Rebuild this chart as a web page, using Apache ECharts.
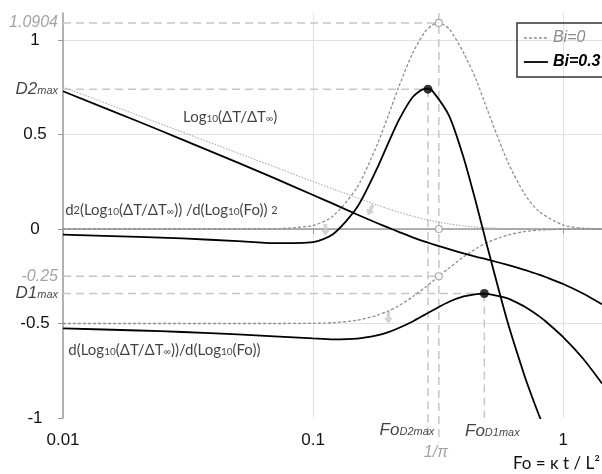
<!DOCTYPE html>
<html>
<head>
<meta charset="utf-8">
<script src="https://cdn.jsdelivr.net/npm/echarts@6/dist/echarts.min.js"></script>
<style>
html, body { margin: 0; padding: 0; background: #fff; }
#main { width: 602px; height: 474px; }
</style>
</head>
<body>
<div id="main"></div>
<script>
// Fo values
var foBi0 = [0.01, 0.02, 0.03, 0.05, 0.07, 0.1, 0.12, 0.15, 0.18, 0.2, 0.22, 0.25, 0.28, 0.3, 0.318, 0.35, 0.4, 0.45, 0.5, 0.6, 0.7, 0.8, 1.0, 1.2, 1.43];
var logBi0 = [0.751, 0.601, 0.513, 0.402, 0.329, 0.251, 0.212, 0.165, 0.127, 0.107, 0.089, 0.068, 0.052, 0.043, 0.036, 0.027, 0.017, 0.010, 0.006, 0.002, 0.001, 0.000, 0.000, 0.000, 0.000];
var d1Bi0 = [-0.5, -0.5, -0.5, -0.5, -0.5, -0.499, -0.496, -0.483, -0.457, -0.434, -0.406, -0.359, -0.310, -0.278, -0.25, -0.206, -0.147, -0.102, -0.070, -0.032, -0.014, -0.006, -0.001, 0.000, 0.000];
var d2Bi0 = [0, 0, 0, 0, 0.001, 0.019, 0.068, 0.220, 0.443, 0.602, 0.751, 0.930, 1.043, 1.079, 1.090, 1.059, 0.932, 0.786, 0.623, 0.356, 0.187, 0.093, 0.021, 0.004, 0.001];

var foBi03 = [0.01, 0.02, 0.03, 0.05, 0.07, 0.1, 0.12, 0.15, 0.18, 0.2, 0.22, 0.25, 0.28, 0.288, 0.3, 0.35, 0.4, 0.45, 0.484, 0.5, 0.6, 0.7, 0.75, 0.8, 0.85, 1.0, 1.2, 1.43];
var logBi03 = [0.729, 0.569, 0.473, 0.351, 0.269, 0.180, 0.134, 0.077, 0.032, 0.007, -0.015, -0.044, -0.067, -0.072, -0.080, -0.107, -0.129, -0.147, -0.157, -0.162, -0.190, -0.216, -0.229, -0.241, -0.254, -0.291, -0.341, -0.398];
var d1Bi03 = [-0.526, -0.537, -0.545, -0.558, -0.568, -0.579, -0.584, -0.580, -0.563, -0.546, -0.524, -0.489, -0.453, -0.444, -0.431, -0.385, -0.357, -0.344, -0.342, -0.343, -0.367, -0.410, -0.435, -0.461, -0.488, -0.572, -0.685, -0.817];
var d2Bi03 = [-0.030, -0.042, -0.050, -0.064, -0.075, -0.069, -0.028, 0.115, 0.319, 0.456, 0.575, 0.697, 0.741, 0.741, 0.731, 0.599, 0.377, 0.131, -0.032, -0.105, -0.494, -0.775, -0.886, -0.984, -1.072, -1.30, -1.58, -1.88];

// special points
var invPi = 0.3183;
var bi0Peak = 1.0904;
var bi0Half = -0.25;
var d2Max = [0.288, 0.740];
var d1Max = [0.484, -0.341];
var openPts = [[invPi, bi0Peak], [invPi, 0], [invPi, bi0Half]];
var filledPts = [d2Max, d1Max];
var arrowPts = [[0.112, -0.005], [0.1694, 0.10], [0.2, -0.47]];
var arrowTurn = [0, -25, 0];

var xMin = 0.01, xMax = 1.43, yMin = -1, yMax = 1.143;

function pairs(xs, ys) {
    return xs.map(function (x, i) { return [x, ys[i]]; });
}

var chartDom = document.getElementById('main');
var myChart = echarts.init(chartDom);

var subRich = {
    big: { fontSize: 17, fontStyle: 'italic', fontFamily: 'Liberation Sans', color: '#111', lineHeight: 18, padding: [7, 0, 7, 0] },
    sub: { fontSize: 11, fontStyle: 'italic', fontFamily: 'Liberation Sans', color: '#111', lineHeight: 12, verticalAlign: 'bottom', padding: [0, 0, 2, 0] },
    gray: { fontSize: 16, fontStyle: 'italic', fontFamily: 'Liberation Sans', color: '#8c8c8c', lineHeight: 18 }
};
var txtRich = {
    t: { fontSize: 15, fontFamily: 'Lato', color: '#111', lineHeight: 16, padding: [5, 0, 5, 0] },
    sb: { fontSize: 10, fontFamily: 'Lato', color: '#111', lineHeight: 11, verticalAlign: 'bottom', padding: [0, 0, 1, 0] },
    sp: { fontSize: 11, fontFamily: 'Lato', color: '#111', lineHeight: 11, verticalAlign: 'top', padding: [3, 0, 0, 0] }
};

// dashed guide lines
var guides = [
    [[xMin, bi0Peak], [invPi, bi0Peak]],
    [[invPi, yMax], [invPi, -1.13]],
    [[xMin, d2Max[1]], d2Max],
    [d2Max, [d2Max[0], -1.12]],
    [[xMin, bi0Half], [invPi, bi0Half]],
    [[xMin, d1Max[1]], d1Max],
    [d1Max, [d1Max[0], yMin]]
];

var series = [];
guides.forEach(function (g) {
    series.push({
        type: 'line', data: g, symbol: 'none', silent: true, clip: false, z: 1,
        lineStyle: { color: '#c6c6c6', width: 1.5, type: [8, 5] }
    });
});

var bi0Style = { color: '#8f8f8f', width: 1.3, type: [3, 2] };
series.push(
    { name: 'Bi=0', type: 'line', data: pairs(foBi0, d2Bi0), symbol: 'none', smooth: 0.25, z: 3, lineStyle: bi0Style },
    { name: 'Bi=0', type: 'line', data: pairs(foBi0, d1Bi0), symbol: 'none', smooth: 0.25, z: 3, lineStyle: bi0Style },
    { name: 'Bi=0', type: 'line', data: pairs(foBi0, logBi0), symbol: 'none', smooth: 0.25, z: 3,
      lineStyle: { color: '#a0a0a0', width: 1, type: [1.5, 1.5] } },
    { name: 'Bi=0.3', type: 'line', data: pairs(foBi03, d2Bi03), symbol: 'none', smooth: 0.25, z: 4, lineStyle: { color: '#000', width: 1.8 } },
    { name: 'Bi=0.3', type: 'line', data: pairs(foBi03, d1Bi03), symbol: 'none', smooth: 0.25, z: 4, lineStyle: { color: '#000', width: 1.8 } },
    { name: 'Bi=0.3', type: 'line', data: pairs(foBi03, logBi03), symbol: 'none', smooth: 0.25, z: 4, lineStyle: { color: '#000', width: 1.8 } }
);

// markers
series.push({
    type: 'scatter', data: openPts, symbol: 'circle', symbolSize: 7, z: 6, silent: true,
    itemStyle: { color: '#fff', borderColor: '#999', borderWidth: 1.2 }
});
series.push({
    type: 'scatter', data: filledPts, symbol: 'circle', symbolSize: 9, z: 6, silent: true,
    itemStyle: { color: '#000' }
});
series.push({
    type: 'scatter', silent: true, z: 5,
    data: arrowPts.map(function (p, i) { return { value: p, symbolRotate: arrowTurn[i] }; }),
    symbol: 'path://M3,0 L7,0 L7,6 L10,6 L5,12 L0,6 L3,6 Z', symbolSize: [9, 12],
    itemStyle: { color: '#c8c8c8' }
});

// extra y-axis labels
series.push({
    type: 'scatter', symbolSize: 0, silent: true, clip: false, z: 7,
    data: [
        { value: [xMin, bi0Peak], label: { formatter: '{gray|1.0904}' } },
        { value: [xMin, d2Max[1]], label: { formatter: '{big|D2}{sub|max}' } },
        { value: [xMin, bi0Half], label: { formatter: '{gray|-0.25}' } },
        { value: [xMin, d1Max[1]], label: { formatter: '{big|D1}{sub|max}' } }
    ],
    label: { show: true, position: 'left', distance: 5, rich: subRich }
});
// extra x-axis labels
series.push({
    type: 'scatter', symbolSize: 0, silent: true, clip: false, z: 7,
    data: [
        { value: [d2Max[0], yMin], label: { formatter: '{big|Fo}{sub|D2max}', offset: [-21, 12] } },
        { value: [invPi, yMin], label: { formatter: '{gray|1/π}', offset: [-3, 35] } },
        { value: [d1Max[0], yMin], label: { formatter: '{big|Fo}{sub|D1max}', offset: [8, 13] } }
    ],
    label: { show: true, position: 'inside', rich: subRich }
});
// curve names
series.push({
    type: 'scatter', symbolSize: 0, silent: true, clip: false, z: 7,
    data: [
        { value: [0.0302, 0.593], label: { formatter: '{t|Log}{sb|10}{t|(ΔT/ΔT}{sb|∞}{t|)}' } },
        { value: [0.0102, 0.10], label: { formatter: '{t|d}{sp|2}{t|(Log}{sb|10}{t|(ΔT/ΔT}{sb|∞}{t|)) /d(Log}{sb|10}{t|(Fo)) }{sp|2}' } },
        { value: [0.0105, -0.64], label: { formatter: '{t|d(Log}{sb|10}{t|(ΔT/ΔT}{sb|∞}{t|))/d(Log}{sb|10}{t|(Fo))}' } }
    ],
    label: { show: true, position: 'right', distance: 0, rich: txtRich }
});

var option = {
    animation: false,
    grid: { left: 63, right: 0, top: 13, bottom: 56 },
    legend: {
        orient: 'vertical', left: 517, top: 23,
        borderColor: '#333', borderWidth: 1.5, padding: [7, 4, 7, 6],
        itemGap: 8, itemWidth: 24, itemHeight: 12,
        textStyle: { fontSize: 16, fontStyle: 'italic', fontFamily: 'Liberation Sans' },
        data: [
            { name: 'Bi=0', textStyle: { color: '#8c8c8c' }, itemStyle: { opacity: 0 },
              lineStyle: { color: '#8f8f8f', width: 1.3, type: [3, 2] } },
            { name: 'Bi=0.3', textStyle: { color: '#000', fontWeight: 'bold' }, itemStyle: { opacity: 0 },
              lineStyle: { color: '#000', width: 1.8 } }
        ]
    },
    xAxis: {
        type: 'log', logBase: 10, min: xMin, max: xMax,
        axisLine: { show: true, lineStyle: { color: '#999', width: 1.5 } },
        axisTick: { show: true, length: 5, lineStyle: { color: '#999' } },
        axisLabel: { color: '#111', fontSize: 17, fontFamily: 'Liberation Sans', margin: 14, showMaxLabel: false },
        splitLine: { show: true, showMinLine: false, showMaxLine: false, lineStyle: { color: '#e2e2e2' } }
    },
    yAxis: {
        type: 'value', min: yMin, max: yMax, interval: 0.5,
        axisLine: { show: true, lineStyle: { color: '#999', width: 1.5 } },
        axisTick: { show: true, length: 5, lineStyle: { color: '#999' } },
        axisLabel: { color: '#111', fontSize: 17, fontFamily: 'Liberation Sans', align: 'center', margin: 28, showMaxLabel: false },
        splitLine: { show: true, showMinLine: false, showMaxLine: false, lineStyle: { color: '#e2e2e2' } }
    },
    graphic: [{
        type: 'text', left: 513, top: 455,
        style: { text: 'Fo = κ t / L²', fontSize: 17, fontFamily: 'Lato', fill: '#111' }
    }],
    series: series
};
myChart.setOption(option);
</script>
</body>
</html>
